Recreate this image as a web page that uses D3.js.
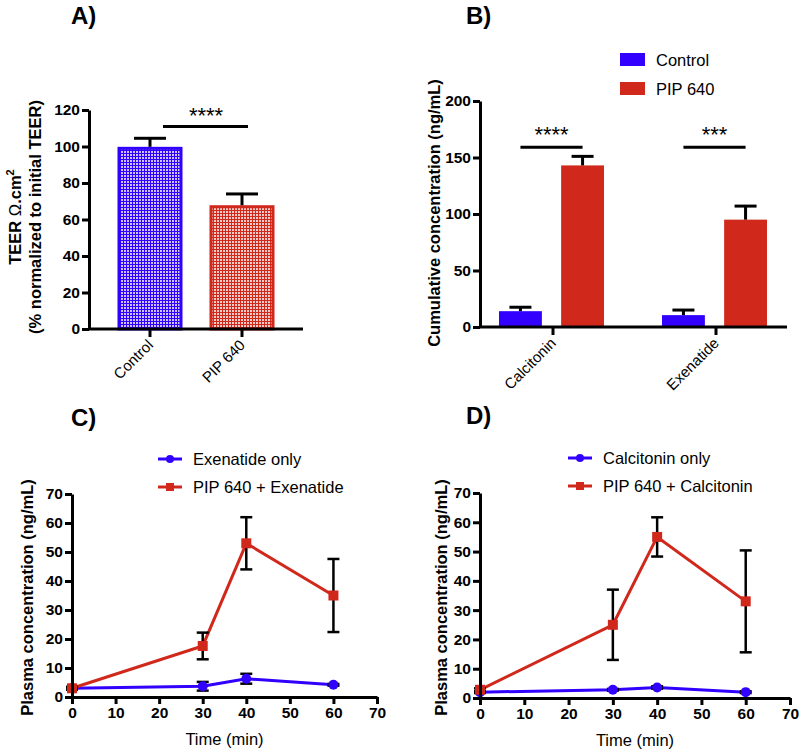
<!DOCTYPE html>
<html>
<head>
<meta charset="utf-8">
<script src="https://cdn.jsdelivr.net/npm/d3@7"></script>
<style>
  body { margin: 0; background: #fff; }
  svg text { font-family: "Liberation Sans", Arial, sans-serif; }
</style>
</head>
<body>
<div id="chart"></div>
<script>
// ---------- data ----------
// A) TEER
var teerGroups = ["Control", "PIP 640"];
var teerMean = [99, 67];
var teerErr = [5.5, 7];

// B) cumulative concentration
var cumDrugs = ["Calcitonin", "Exenatide"];
var cumSeries = ["Control", "PIP 640"];
var cumControl = [14, 10.5];
var cumControlErr = [3.5, 4.5];
var cumPip = [143, 95];
var cumPipErr = [8, 12];
var cumStars = ["****", "***"];

// C) and D) plasma concentration
var timePoints = [0, 30, 40, 60];
var exOnly = [3, 3.7, 6.3, 4.2];
var exOnlyErr = [0.4, 1.5, 1.7, 0.3];
var exPip = [3, 17.6, 53, 35];
var exPipErr = [0.5, 4.6, 9, 12.6];
var caOnly = [2, 2.8, 3.6, 2];
var caOnlyErr = [0.3, 0.3, 0.4, 0.3];
var caPip = [2.8, 25, 55, 33];
var caPipErr = [0.5, 12, 6.7, 17.4];

var blue = "#3100ff";
var red = "#d1281c";

var svg = d3.select("#chart").append("svg")
    .attr("width", 800)
    .attr("height", 751);

// checker patterns for panel A
var defs = svg.append("defs");
function checker(id, col) {
    var p = defs.append("pattern")
        .attr("id", id)
        .attr("patternUnits", "userSpaceOnUse")
        .attr("width", 3).attr("height", 3);
    p.append("rect").attr("width", 3).attr("height", 3).attr("fill", col);
    p.append("rect").attr("x", 1).attr("y", 1).attr("width", 2).attr("height", 2)
        .attr("fill", "#fff").attr("opacity", 0.75);
}
checker("blueCheck", blue);
checker("redCheck", red);

function styleAxis(g) {
    g.select(".domain").attr("stroke", "#000").attr("stroke-width", 3);
    g.selectAll(".tick line").attr("stroke", "#000").attr("stroke-width", 3);
    g.selectAll(".tick text").attr("fill", "#000");
}

function yTicks(g) {
    g.selectAll(".tick text")
        .attr("font-size", 15.5).attr("font-weight", "bold");
}

function title(x, y, t) {
    svg.append("text").attr("x", x).attr("y", y)
        .attr("font-size", 24).attr("font-weight", "bold").text(t);
}

// ---------- A) ----------
title(71, 24, "A)");
var xA = d3.scalePoint().domain(teerGroups).range([150, 242]);
var yA = d3.scaleLinear().domain([0, 120]).range([329, 110]);
var barWA = 62;

svg.append("g").attr("class", "bars-a")
    .selectAll("rect").data(teerGroups).enter().append("rect")
    .attr("x", d => xA(d) - barWA / 2)
    .attr("y", (d, i) => yA(teerMean[i]))
    .attr("width", barWA)
    .attr("height", (d, i) => yA(0) - yA(teerMean[i]))
    .attr("fill", (d, i) => i === 0 ? "url(#blueCheck)" : "url(#redCheck)")
    .attr("stroke", (d, i) => i === 0 ? blue : red)
    .attr("stroke-width", 3);

var errA = svg.append("g").selectAll("g").data(teerGroups).enter().append("g");
errA.append("line")
    .attr("x1", d => xA(d)).attr("x2", d => xA(d))
    .attr("y1", (d, i) => yA(teerMean[i]) - 1.5)
    .attr("y2", (d, i) => yA(teerMean[i] + teerErr[i]))
    .attr("stroke", "#000").attr("stroke-width", 3);
errA.append("line")
    .attr("x1", d => xA(d) - 16).attr("x2", d => xA(d) + 16)
    .attr("y1", (d, i) => yA(teerMean[i] + teerErr[i]))
    .attr("y2", (d, i) => yA(teerMean[i] + teerErr[i]))
    .attr("stroke", "#000").attr("stroke-width", 3);

var axA = svg.append("g").attr("transform", "translate(89,0)")
    .call(d3.axisLeft(yA).tickValues([0, 20, 40, 60, 80, 100, 120]).tickSize(7).tickPadding(2).tickSizeOuter(0));
styleAxis(axA); yTicks(axA);

var xAxA = svg.append("g").attr("transform", `translate(0, ${yA(0)})`);
xAxA.append("line").attr("x1", 88).attr("x2", 303).attr("stroke", "#000").attr("stroke-width", 3);
xAxA.selectAll(".tk").data(teerGroups).enter().append("line")
    .attr("x1", d => xA(d)).attr("x2", d => xA(d)).attr("y1", 0).attr("y2", 8)
    .attr("stroke", "#000").attr("stroke-width", 3);
xAxA.selectAll(".lbl").data(teerGroups).enter().append("text")
    .attr("transform", d => `translate(${xA(d) + 4}, 17) rotate(-45)`)
    .attr("text-anchor", "end").attr("font-size", 15).text(d => d);

// significance
svg.append("line").attr("x1", xA(teerGroups[0]) + 13).attr("x2", xA(teerGroups[1]) + 6)
    .attr("y1", yA(111)).attr("y2", yA(111)).attr("stroke", "#000").attr("stroke-width", 3);
svg.append("text").attr("x", (xA(teerGroups[0]) + xA(teerGroups[1])) / 2 + 10).attr("y", yA(111) - 3)
    .attr("text-anchor", "middle").attr("font-size", 22).text("****");

var la = svg.append("text")
    .attr("transform", "translate(21, 217) rotate(-90)")
    .attr("text-anchor", "middle")
    .attr("font-size", 16.5).attr("font-weight", "bold");
la.append("tspan").text("TEER ");
la.append("tspan").attr("font-weight", "normal").text("Ω");
la.append("tspan").text(".cm");
la.append("tspan").attr("dy", -7).attr("font-size", 11).text("2");
svg.append("text").attr("transform", "translate(41, 217) rotate(-90)")
    .attr("text-anchor", "middle").attr("font-size", 16.5).attr("font-weight", "bold")
    .text("(% normalized to initial TEER)");

// ---------- B) ----------
title(466, 24, "B)");
var xB = d3.scalePoint().domain(cumDrugs).range([553, 716]);
var inB = d3.scaleBand().domain(cumSeries).range([-54, 51]).paddingInner(0.31);
var yB = d3.scaleLinear().domain([0, 200]).range([327, 101]);
var cumVals = [cumControl, cumPip];
var cumErrs = [cumControlErr, cumPipErr];
var cumCols = [blue, red];

cumSeries.forEach(function(s, si) {
    var g = svg.append("g");
    g.selectAll("rect").data(cumDrugs).enter().append("rect")
        .attr("x", d => xB(d) + inB(s))
        .attr("y", (d, i) => yB(cumVals[si][i]))
        .attr("width", inB.bandwidth())
        .attr("height", (d, i) => yB(0) - yB(cumVals[si][i]))
        .attr("fill", cumCols[si]);
    var cx = d => xB(d) + inB(s) + inB.bandwidth() / 2;
    g.selectAll(".ev").data(cumDrugs).enter().append("line")
        .attr("x1", cx).attr("x2", cx)
        .attr("y1", (d, i) => yB(cumVals[si][i]))
        .attr("y2", (d, i) => yB(cumVals[si][i] + cumErrs[si][i]))
        .attr("stroke", "#000").attr("stroke-width", 3);
    g.selectAll(".ec").data(cumDrugs).enter().append("line")
        .attr("x1", d => cx(d) - 11).attr("x2", d => cx(d) + 11)
        .attr("y1", (d, i) => yB(cumVals[si][i] + cumErrs[si][i]))
        .attr("y2", (d, i) => yB(cumVals[si][i] + cumErrs[si][i]))
        .attr("stroke", "#000").attr("stroke-width", 3);
});

var axB = svg.append("g").attr("transform", "translate(480,0)")
    .call(d3.axisLeft(yB).tickValues([0, 50, 100, 150, 200]).tickSize(7).tickPadding(2).tickSizeOuter(0));
styleAxis(axB); yTicks(axB);

var xAxB = svg.append("g").attr("transform", `translate(0, ${yB(0)})`);
xAxB.append("line").attr("x1", 479).attr("x2", 787).attr("stroke", "#000").attr("stroke-width", 3);
xAxB.selectAll(".tk").data(cumDrugs).enter().append("line")
    .attr("x1", d => xB(d)).attr("x2", d => xB(d)).attr("y1", 0).attr("y2", 8)
    .attr("stroke", "#000").attr("stroke-width", 3);
xAxB.selectAll(".lbl").data(cumDrugs).enter().append("text")
    .attr("transform", d => `translate(${xB(d) + 4}, 17) rotate(-45)`)
    .attr("text-anchor", "end").attr("font-size", 15).text(d => d);

// significance B
cumDrugs.forEach(function(d, i) {
    var x1 = xB(d) + inB(cumSeries[0]) + inB.bandwidth() / 2;
    var x2 = xB(d) + inB(cumSeries[1]) + inB.bandwidth() / 2;
    svg.append("line").attr("x1", x1).attr("x2", x2)
        .attr("y1", yB(159)).attr("y2", yB(159)).attr("stroke", "#000").attr("stroke-width", 3);
    svg.append("text").attr("x", (x1 + x2) / 2).attr("y", yB(159) - 5)
        .attr("text-anchor", "middle").attr("font-size", 22).text(cumStars[i]);
});

svg.append("text").attr("transform", "translate(440, 213) rotate(-90)")
    .attr("text-anchor", "middle").attr("font-size", 16.5).attr("font-weight", "bold")
    .text("Cumulative concentration (ng/mL)");

// legend B
var legB = svg.append("g").selectAll("g").data(cumSeries).enter().append("g")
    .attr("transform", (d, i) => `translate(620, ${53 + i * 29})`);
legB.append("rect").attr("width", 25).attr("height", 13).attr("fill", (d, i) => cumCols[i]);
legB.append("text").attr("x", 36).attr("y", 13).attr("font-size", 16.5).text(d => d);

// ---------- C) and D) ----------
function linePanel(opt) {
    var x = d3.scaleLinear().domain([0, 70]).range(opt.xr);
    var y = d3.scaleLinear().domain([0, 70]).range(opt.yr);
    title(opt.tx, opt.ty, opt.title);

    var series = [
        { vals: opt.only, err: opt.onlyErr, col: blue, name: opt.names[0], sq: false },
        { vals: opt.pip, err: opt.pipErr, col: red, name: opt.names[1], sq: true }
    ];
    var line = d3.line().x((d, i) => x(timePoints[i])).y(d => y(d));

    series.forEach(function(s) {
        var g = svg.append("g");
        g.append("path").datum(s.vals).attr("d", line)
            .attr("fill", "none").attr("stroke", s.col).attr("stroke-width", 3);
        var eb = g.selectAll(".eb").data(s.vals).enter().append("g");
        eb.append("line")
            .attr("x1", (d, i) => x(timePoints[i])).attr("x2", (d, i) => x(timePoints[i]))
            .attr("y1", (d, i) => y(d - s.err[i])).attr("y2", (d, i) => y(d + s.err[i]))
            .attr("stroke", "#000").attr("stroke-width", 2.5);
        [-1, 1].forEach(function(sg) {
            eb.append("line")
                .attr("x1", (d, i) => x(timePoints[i]) - 6).attr("x2", (d, i) => x(timePoints[i]) + 6)
                .attr("y1", (d, i) => y(d + sg * s.err[i])).attr("y2", (d, i) => y(d + sg * s.err[i]))
                .attr("stroke", "#000").attr("stroke-width", 2.5);
        });
        if (s.sq) {
            g.selectAll(".mk").data(s.vals).enter().append("rect")
                .attr("x", (d, i) => x(timePoints[i]) - 5).attr("y", d => y(d) - 5)
                .attr("width", 10).attr("height", 10).attr("fill", s.col);
        } else {
            g.selectAll(".mk").data(s.vals).enter().append("circle")
                .attr("cx", (d, i) => x(timePoints[i])).attr("cy", d => y(d))
                .attr("r", 5).attr("fill", s.col);
        }
    });

    var ay = svg.append("g").attr("transform", `translate(${opt.xr[0]},0)`)
        .call(d3.axisLeft(y).tickValues(d3.range(0, 71, 10)).tickSize(7).tickPadding(2).tickSizeOuter(0));
    styleAxis(ay); yTicks(ay);
    var ax = svg.append("g").attr("transform", `translate(0,${opt.yr[0]})`)
        .call(d3.axisBottom(x).tickValues(d3.range(0, 71, 10)).tickSize(7).tickPadding(3).tickSizeOuter(0));
    styleAxis(ax);
    ax.selectAll(".tick text").attr("font-size", 15.5).attr("font-weight", "bold");

    svg.append("text").attr("x", (opt.xr[0] + opt.xr[1]) / 2).attr("y", opt.yr[0] + 48)
        .attr("text-anchor", "middle").attr("font-size", 16.5).text("Time (min)");
    svg.append("text").attr("transform", `translate(${opt.ylx}, ${(opt.yr[0] + opt.yr[1]) / 2 + 2}) rotate(-90)`)
        .attr("text-anchor", "middle").attr("font-size", 16.5).attr("font-weight", "bold")
        .text("Plasma concentration (ng/mL)");

    var leg = svg.append("g").selectAll("g").data(series).enter().append("g")
        .attr("transform", (d, i) => `translate(${opt.lx}, ${opt.ly + i * 28})`);
    leg.append("line").attr("x1", 0).attr("x2", 24)
        .attr("stroke", d => d.col).attr("stroke-width", 3);
    leg.filter(d => !d.sq).append("circle").attr("cx", 12).attr("r", 4).attr("fill", d => d.col);
    leg.filter(d => d.sq).append("rect").attr("x", 8).attr("y", -4).attr("width", 8).attr("height", 8).attr("fill", d => d.col);
    leg.append("text").attr("x", 35).attr("y", 6).attr("font-size", 16.5).text(d => d.name);
}

linePanel({
    title: "C)", tx: 71, ty: 426,
    xr: [72, 377], yr: [697, 494], ylx: 33,
    only: exOnly, onlyErr: exOnlyErr, pip: exPip, pipErr: exPipErr,
    names: ["Exenatide only", "PIP 640 + Exenatide"],
    lx: 158, ly: 459
});
linePanel({
    title: "D)", tx: 466, ty: 424,
    xr: [480, 790], yr: [698, 493], ylx: 447,
    only: caOnly, onlyErr: caOnlyErr, pip: caPip, pipErr: caPipErr,
    names: ["Calcitonin only", "PIP 640 + Calcitonin"],
    lx: 568, ly: 458
});
</script>
</body>
</html>
